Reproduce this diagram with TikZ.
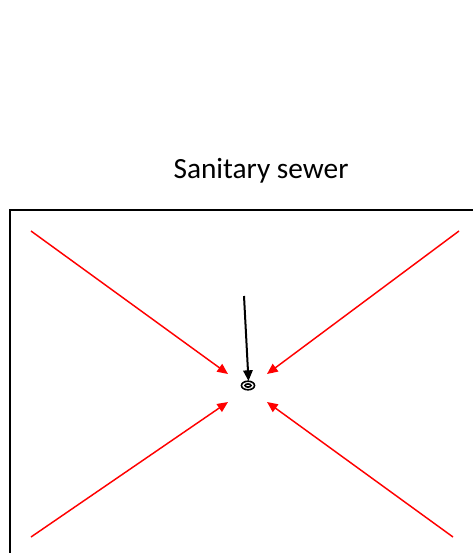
\documentclass[tikz,border=0pt]{standalone}
\usepackage{fontspec}
\setmainfont{Carlito}
\usetikzlibrary{arrows.meta}
\begin{document}
\begin{tikzpicture}[x=0.75pt,y=-0.75pt,line cap=butt,
  flow/.style={red,line width=1.1pt,-{Triangle[length=8pt,width=7pt]}},
  pipe/.style={black,line width=1.5pt,-{Triangle[length=8pt,width=7pt]}}]
\path[use as bounding box] (0,0) rectangle (473,553);
\fill[white] (0,0) rectangle (473,553);
% title
\node[font=\fontsize{22}{26}\selectfont] (title) at (261,171) {Sanitary sewer};
% lot outline
\draw[line width=1.2pt] (10,553) -- (10,210) -- (473,210);
% drain
\coordinate (drain) at (248,385.5);
\draw[line width=1.2pt] (drain) ellipse[x radius=6.5,y radius=4.3];
\draw[line width=1.2pt] (drain) ellipse[x radius=3,y radius=1.6];
% surface flow towards the drain
\coordinate (nw) at (31,231);
\coordinate (ne) at (459,231);
\coordinate (sw) at (31,537);
\coordinate (se) at (453,537);
\coordinate (nwtip) at (228,374);
\coordinate (netip) at (267,374);
\coordinate (swtip) at (228,402);
\coordinate (setip) at (267,402);
\draw[flow] (nw) -- (nwtip);
\draw[flow] (ne) -- (netip);
\draw[flow] (sw) -- (swtip);
\draw[flow] (se) -- (setip);
% connection from the sewer
\coordinate (inlet) at (244,296);
\coordinate (inlettip) at (248.5,381);
\draw[pipe] (inlet) -- (inlettip);
\end{tikzpicture}
\end{document}
